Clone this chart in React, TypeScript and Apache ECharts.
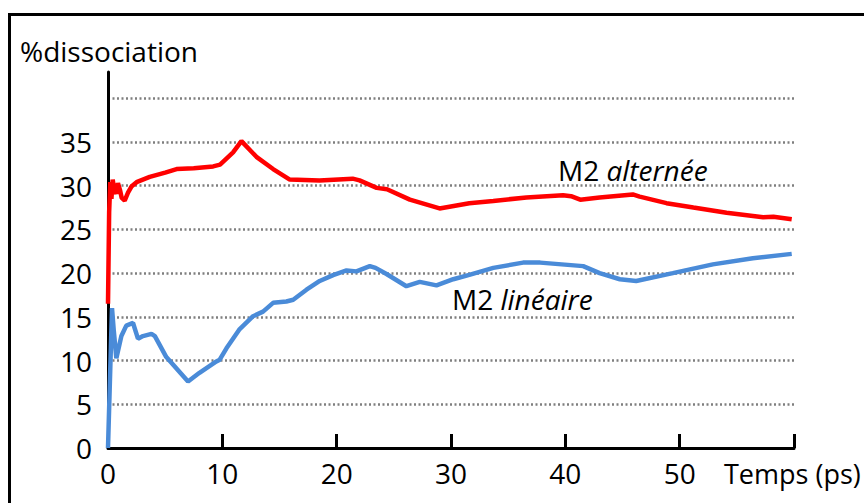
import React, { useEffect, useRef } from "react";
import * as echarts from "echarts";

// M2 alternée (red)
const alterneeTime = [0, 0.1, 0.2, 0.3, 0.41, 0.55, 0.73, 0.87, 1.05, 1.2, 1.46, 1.75, 2.05, 2.5, 3.65, 5, 6, 7.5, 9.2, 9.8, 10.94, 11.67, 12.98, 14.44, 15.9, 18.5, 21.4, 22.0, 23.5, 24.4, 26.4, 29.0, 31.6, 33.7, 36.6, 39.8, 40.5, 41.3, 43.0, 45.9, 46.5, 48.85, 51.2, 54.1, 57.3, 58.2, 59.8];
const alterneeValue = [16.5, 27, 30.4, 28.5, 30.7, 29.5, 29.1, 30.3, 29.5, 28.6, 28.3, 29.2, 29.9, 30.4, 31.0, 31.5, 31.9, 32.0, 32.2, 32.4, 33.8, 35.1, 33.3, 31.9, 30.7, 30.6, 30.8, 30.6, 29.75, 29.6, 28.4, 27.4, 28.0, 28.25, 28.66, 28.9, 28.8, 28.4, 28.66, 29.0, 28.75, 28.0, 27.5, 26.9, 26.4, 26.45, 26.16];

// M2 linéaire (blue)
const lineaireTime = [0, 0.35, 0.5, 0.73, 1.17, 1.6, 2.19, 2.62, 3.06, 3.8, 4.1, 5.1, 7.0, 8.0, 9.48, 9.77, 10.36, 11.52, 12.69, 13.56, 14.44, 15.6, 16.2, 17.36, 18.52, 19.69, 20.86, 21.73, 22.9, 23.4, 24.36, 26.1, 27.27, 28.73, 30.2, 31.6, 33.7, 36.3, 37.8, 41.56, 43.0, 44.77, 46.2, 49.4, 52.9, 56.4, 59.8];
const lineaireValue = [0, 16.0, 13.5, 10.25, 12.8, 14.0, 14.3, 12.5, 12.8, 13.05, 12.8, 10.4, 7.6, 8.6, 9.9, 10.1, 11.4, 13.6, 15.07, 15.6, 16.6, 16.75, 16.95, 18.1, 19.1, 19.77, 20.3, 20.2, 20.8, 20.6, 19.9, 18.5, 19.0, 18.6, 19.3, 19.8, 20.6, 21.2, 21.2, 20.8, 20.0, 19.3, 19.1, 20.0, 21.0, 21.7, 22.2];

const yLabelsShown = [0, 5, 10, 15, 20, 25, 30, 35];
const xLabelsShown = [0, 10, 20, 30, 40, 50];

const FONT = "'Open Sans', 'Noto Sans', sans-serif";

export default function App() {
  const ref = useRef<HTMLDivElement>(null);
  useEffect(() => {
    if (!ref.current) return;
    const chart = echarts.init(ref.current, null, { renderer: "svg" });
    const pair = (xs: number[], ys: number[]) => xs.map((x, i) => [x, ys[i]]);
    const rich = {
      n: { fontSize: 28, fontFamily: FONT, fill: "#000" },
      i: { fontSize: 28, fontFamily: FONT, fontStyle: "italic", fill: "#000" },
    };
    chart.setOption({
      animation: false,
      backgroundColor: "#ffffff",
      grid: { left: 108, right: 70, top: 72, bottom: 55 },
      xAxis: {
        type: "value",
        min: 0,
        max: 60,
        interval: 10,
        axisLine: { show: true, lineStyle: { color: "#000", width: 3 } },
        axisTick: { show: true, inside: true, length: 14, lineStyle: { color: "#000", width: 3 } },
        axisLabel: {
          color: "#000",
          fontSize: 28,
          fontFamily: FONT,
          margin: 11,
          formatter: (v: number) => (xLabelsShown.includes(v) ? String(v) : ""),
        },
        splitLine: { show: false },
      },
      yAxis: {
        type: "value",
        min: 0,
        max: 43,
        interval: 5,
        axisLine: { show: true, lineStyle: { color: "#000", width: 3 } },
        axisTick: { show: false },
        axisLabel: {
          color: "#000",
          fontSize: 28,
          fontFamily: FONT,
          margin: 16,
          formatter: (v: number) => (yLabelsShown.includes(v) ? String(v) : ""),
        },
        splitLine: {
          show: true,
          showMinLine: false,
          showMaxLine: false,
          lineStyle: { color: "#7f7f7f", width: 2.5, type: [2, 2.5] },
        },
      },
      series: [
        {
          name: "M2 alternée",
          type: "line",
          data: pair(alterneeTime, alterneeValue),
          showSymbol: false,
          symbol: "none",
          clip: false,
          lineStyle: { color: "#ff0000", width: 4.5 },
          z: 3,
        },
        {
          name: "M2 linéaire",
          type: "line",
          data: pair(lineaireTime, lineaireValue),
          showSymbol: false,
          symbol: "none",
          clip: false,
          lineStyle: { color: "#4a8bd8", width: 4.5 },
          z: 3,
        },
      ],
      graphic: [
        {
          type: "rect",
          shape: { x: 9.5, y: 14.5, width: 900, height: 600 },
          style: { fill: "none", stroke: "#000", lineWidth: 3 },
          silent: true,
        },
        {
          type: "text",
          x: 20,
          y: 51,
          style: {
            text: "%dissociation",
            font: `28px ${FONT}`,
            fill: "#000",
            verticalAlign: "middle",
            align: "left",
          },
        },
        {
          type: "text",
          x: 724,
          y: 473,
          style: {
            text: "Temps (ps)",
            font: `27px ${FONT}`,
            fill: "#000",
            verticalAlign: "middle",
            align: "left",
          },
        },
        {
          type: "text",
          x: 558,
          y: 170,
          style: {
            text: "{n|M2 }{i|alternée}",
            verticalAlign: "middle",
            align: "left",
            rich,
          },
        },
        {
          type: "text",
          x: 452,
          y: 299,
          style: {
            text: "{n|M2 }{i|linéaire}",
            verticalAlign: "middle",
            align: "left",
            rich,
          },
        },
      ],
    });
    return () => chart.dispose();
  }, []);
  return (
    <div
      ref={ref}
      style={{ position: "fixed", left: 0, top: 0, width: 864, height: 503 }}
    />
  );
}
